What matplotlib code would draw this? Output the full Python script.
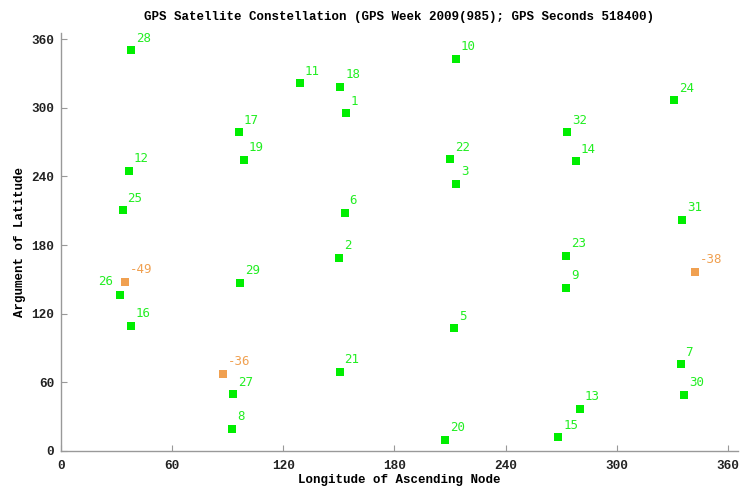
import matplotlib
matplotlib.use("Agg")
import matplotlib.pyplot as plt

# Satellite PRN labels, longitude of ascending node, argument of latitude
prn = ["28", "11", "18", "1", "17", "19", "12", "25", "6", "10", "24", "32",
       "22", "14", "3", "31", "2", "26", "29", "16", "21", "27", "8", "23",
       "9", "5", "7", "30", "13", "20", "15"]
lon = [37.9, 128.9, 150.8, 153.7, 95.9, 98.8, 36.7, 33.3, 153.2, 213.3, 331.0, 273.1,
       209.9, 277.9, 213.5, 335.3, 150.0, 32.0, 96.7, 37.8, 150.5, 93.0, 92.5, 272.7,
       272.7, 212.2, 334.6, 336.4, 280.2, 207.2, 268.5]
lat = [350.6, 321.4, 318.5, 295.1, 278.5, 254.6, 245.2, 210.5, 208.4, 343.0, 306.5, 278.8,
       255.2, 253.1, 233.8, 202.3, 169.0, 136.6, 147.1, 109.5, 68.9, 49.4, 19.0, 170.8,
       142.5, 107.2, 75.7, 48.8, 36.5, 9.4, 11.7]

# Inactive / other objects (orange)
other_lbl = ["-49", "-36", "-38"]
other_lon = [34.6, 87.5, 342.3]
other_lat = [148.0, 67.2, 156.5]

title = "GPS Satellite Constellation (GPS Week 2009(985); GPS Seconds 518400)"
xticks = [0, 60, 120, 180, 240, 300, 360]
yticks = [0, 60, 120, 180, 240, 300, 360]

green = "#00ee00"
green_txt = "#22ee22"
orange = "#f0a050"

fig = plt.figure(figsize=(7.42, 4.86), dpi=100)
ax = fig.add_axes([0.0822, 0.0726, 0.9124, 0.8594])

ax.scatter(lon, lat, marker="s", s=34, color=green, linewidths=0, zorder=3)
ax.scatter(other_lon, other_lat, marker="s", s=34, color=orange, linewidths=0, zorder=3)

lab_font = dict(family="DejaVu Sans Mono", fontsize=9)
for t, x, y in zip(prn, lon, lat):
    if t == "26":
        ax.annotate(t, (x, y), xytext=(-5, 4.5), textcoords="offset points",
                    ha="right", va="bottom", color=green_txt, **lab_font)
    else:
        ax.annotate(t, (x, y), xytext=(3.5, 4), textcoords="offset points",
                    ha="left", va="bottom", color=green_txt, **lab_font)
for t, x, y in zip(other_lbl, other_lon, other_lat):
    ax.annotate(t, (x, y), xytext=(3.5, 4), textcoords="offset points",
                ha="left", va="bottom", color=orange, **lab_font)

ax.set_xlim(0, 365.5)
ax.set_ylim(0, 365.5)
ax.set_xticks(xticks)
ax.set_yticks(yticks)
tick_font = dict(family="Liberation Mono", fontweight="bold", fontsize=9.2)
mono_bold = dict(family="Liberation Mono", fontweight="bold", fontsize=9)
ax.set_xticklabels([str(v) for v in xticks], **tick_font, color="#222222")
ax.set_yticklabels([str(v) for v in yticks], **tick_font, color="#222222")
ax.tick_params(axis="x", direction="in", length=4, color="#999999", pad=7)
ax.tick_params(axis="y", direction="in", length=4, color="#999999", pad=5)
for s in ["top", "right"]:
    ax.spines[s].set_visible(False)
for s in ["left", "bottom"]:
    ax.spines[s].set_color("#999999")
    ax.spines[s].set_linewidth(1.0)

ax.set_xlabel("Longitude of Ascending Node", labelpad=1, **mono_bold)
ax.set_ylabel("Argument of Latitude", labelpad=4, **mono_bold)
ax.text(0.5, 0.977, title, transform=fig.transFigure, ha="center", va="top", **mono_bold)
ax.texts[-1].set_x(0.0822 + 0.9124 / 2)

fig.savefig("out.png", dpi=100)
